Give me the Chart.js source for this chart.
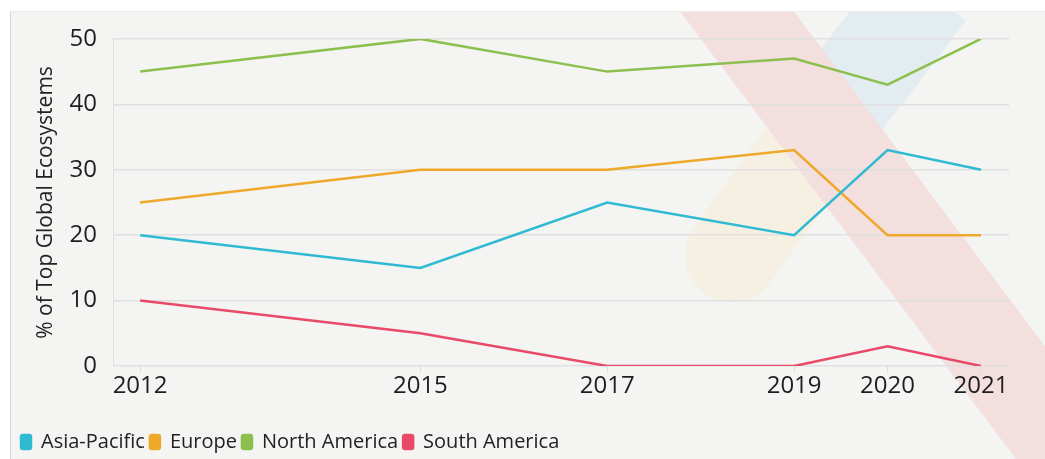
<!DOCTYPE html>
<html>
<head>
<meta charset="utf-8">
<script src="https://cdn.jsdelivr.net/npm/chart.js@4/dist/chart.umd.min.js"></script>
<style>
    html, body { margin: 0; padding: 0; background: #ffffff; }
    #panel {
        position: absolute;
        left: 10px;
        top: 11px;
        width: 1035px;
        height: 448px;
        background: #f4f4f3;
        border-left: 1px solid #d4d4d4;
        border-top: 1px solid #ececec;
        box-sizing: border-box;
    }
</style>
</head>
<body>
<div id="panel"><canvas id="ecoChart"></canvas></div>
<script>
const years = [2012, 2015, 2017, 2019, 2020, 2021];
const asiaPacific = [20, 15, 25, 20, 33, 30];
const europe = [25, 30, 30, 33, 20, 20];
const northAmerica = [45, 50, 45, 47, 43, 50];
const southAmerica = [10, 5, 0, 0, 3, 0];
const yTicks = [0, 10, 20, 30, 40, 50];

const toPoints = (values) => values.map((v, i) => ({ x: years[i], y: v }));

// faint decorative bands behind the plot
const backdrop = {
    id: 'backdrop',
    beforeDraw(chart) {
        const ctx = chart.ctx;
        ctx.save();
        ctx.lineCap = 'butt';
        // yellow, rounded at its lower end
        ctx.fillStyle = ctx.strokeStyle = '#f6f0e2';
        ctx.lineWidth = 94;
        ctx.beginPath();
        ctx.moveTo(721, 243);
        ctx.lineTo(810, 120);
        ctx.stroke();
        ctx.beginPath();
        ctx.arc(721, 243, 47, 0, Math.PI * 2);
        ctx.fill();
        // blue
        ctx.strokeStyle = '#e3ecf1';
        ctx.lineWidth = 98;
        ctx.beginPath();
        ctx.moveTo(916, -21);
        ctx.lineTo(808, 120);
        ctx.stroke();
        // red
        ctx.strokeStyle = '#f4dfdf';
        ctx.lineWidth = 91;
        ctx.beginPath();
        ctx.moveTo(704, -30);
        ctx.lineTo(1079, 470);
        ctx.stroke();
        ctx.restore();
    }
};

const ctx = document.getElementById('ecoChart').getContext('2d');
new Chart(ctx, {
    type: 'line',
    data: {
        datasets: [
            { label: 'Asia-Pacific', data: toPoints(asiaPacific), borderColor: '#2fbad2', backgroundColor: '#2fbad2' },
            { label: 'Europe', data: toPoints(europe), borderColor: '#efa92a', backgroundColor: '#efa92a' },
            { label: 'North America', data: toPoints(northAmerica), borderColor: '#8dbf4e', backgroundColor: '#8dbf4e' },
            { label: 'South America', data: toPoints(southAmerica), borderColor: '#e84a68', backgroundColor: '#e84a68' }
        ]
    },
    options: {
        responsive: true,
        maintainAspectRatio: false,
        animation: false,
        elements: {
            line: { borderWidth: 2.5, tension: 0 },
            point: { radius: 0, hoverRadius: 0 }
        },
        layout: {
            padding: { left: 5, right: 36, top: 12, bottom: -3 }
        },
        plugins: {
            legend: {
                position: 'bottom',
                align: 'start',
                labels: {
                    color: '#222',
                    font: { family: 'Open Sans', size: 20 },
                    boxWidth: 10,
                    boxHeight: 14,
                    padding: 5,
                    useBorderRadius: true,
                    borderRadius: 2
                }
            },
            tooltip: { enabled: false }
        },
        scales: {
            x: {
                type: 'linear',
                min: 2011.71,
                max: 2021.3,
                afterBuildTicks: (scale) => {
                    scale.ticks = years.map(v => ({ value: v }));
                },
                afterFit: (scale) => { scale.height = 61; },
                grid: {
                    drawOnChartArea: false,
                    drawTicks: true,
                    tickLength: 6,
                    color: '#dcdcdc'
                },
                border: { display: false },
                ticks: {
                    color: '#1e1e1e',
                    font: { family: 'Open Sans', size: 24 },
                    padding: 0,
                    maxRotation: 0,
                    autoSkip: false,
                    callback: (value) => String(value)
                }
            },
            y: {
                min: 0,
                max: 50,
                afterBuildTicks: (scale) => {
                    scale.ticks = yTicks.map(v => ({ value: v }));
                },
                afterFit: (scale) => { scale.width = 97; },
                grid: {
                    color: '#e0e0e0',
                    lineWidth: 1.5,
                    drawTicks: true,
                    tickLength: 3.5,
                    tickColor: 'rgba(0, 0, 0, 0)'
                },
                border: { color: '#e0e0e0' },
                ticks: {
                    color: '#1e1e1e',
                    font: { family: 'Open Sans', size: 24 },
                    padding: 12.5
                },
                title: {
                    display: true,
                    text: '% of Top Global Ecosystems',
                    color: '#222',
                    font: { family: 'Open Sans', size: 21 },
                    padding: { top: 17, bottom: 4 }
                }
            }
        }
    },
    plugins: [backdrop]
});
</script>
</body>
</html>
